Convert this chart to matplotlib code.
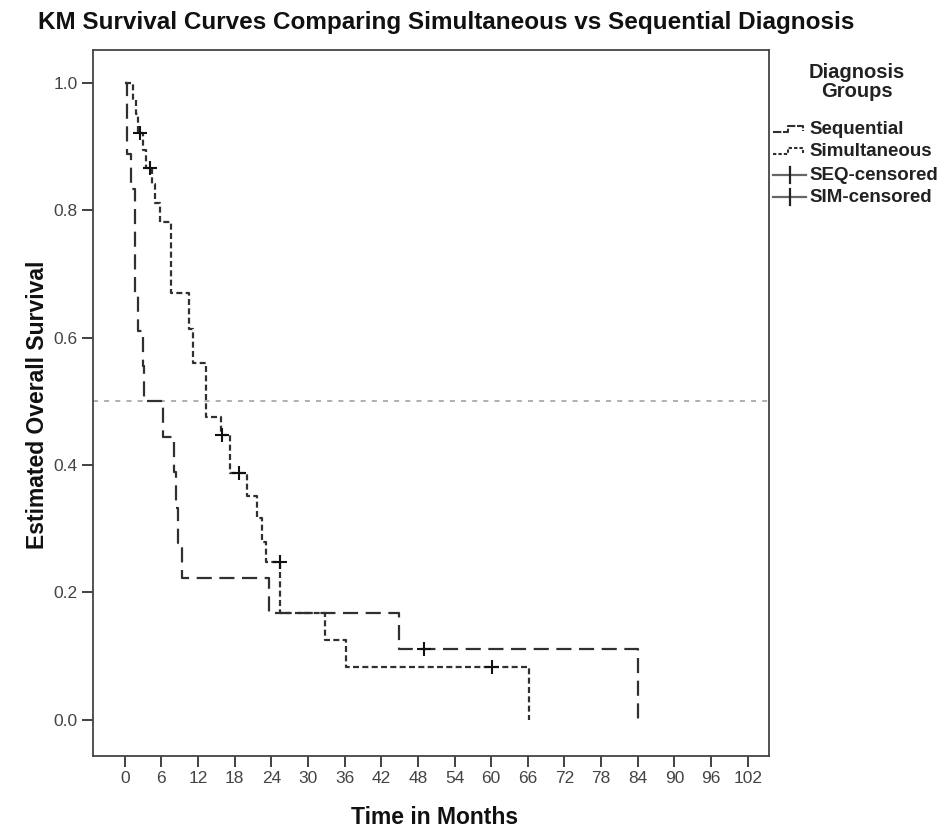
import matplotlib
matplotlib.use("Agg")
import matplotlib.pyplot as plt
from matplotlib.lines import Line2D

# ---------------- data ----------------
seq_times = [0, 0.4, 1.1, 1.6, 2.2, 3.0, 3.2, 6.2, 8.1, 8.4, 8.8, 9.3, 23.6, 44.9, 84.0]
seq_surv = [1.0, 0.889, 0.833, 0.667, 0.611, 0.556, 0.5, 0.444, 0.389, 0.333, 0.278, 0.222, 0.167, 0.111, 0.0]
seq_cens_t = [49.0]
seq_cens_s = [0.111]

sim_times = [0, 1.37, 1.9, 2.2, 3.0, 3.55, 4.4, 4.9, 5.7, 7.5, 10.5, 11.2, 13.3, 15.7,
             17.2, 20.1, 21.7, 22.4, 23.2, 25.4, 32.8, 36.3, 66.2]
sim_surv = [1.0, 0.973, 0.952, 0.921, 0.895, 0.866, 0.842, 0.811, 0.782, 0.671, 0.614, 0.56, 0.475, 0.447,
            0.387, 0.352, 0.317, 0.279, 0.247, 0.167, 0.125, 0.083, 0.0]
sim_cens_t = [2.45, 4.1, 16.0, 18.7, 25.4, 60.1]
sim_cens_s = [0.921, 0.866, 0.447, 0.387, 0.247, 0.083]

x_ticks = list(range(0, 103, 6))
y_ticks = [0.0, 0.2, 0.4, 0.6, 0.8, 1.0]
legend_labels = ["Sequential", "Simultaneous", "SEQ-censored", "SIM-censored"]
legend_title = "Diagnosis\nGroups"
title = "KM Survival Curves Comparing Simultaneous vs Sequential Diagnosis"
xlabel = "Time in Months"
ylabel = "Estimated Overall Survival"

# ---------------- style ----------------
plt.rcParams['font.family'] = ['Liberation Sans', 'DejaVu Sans']

W, H = 949, 834
fig = plt.figure(figsize=(W / 100, H / 100), dpi=100)

def fx(px):
    return px / W

def fy(py):
    return 1 - py / H

left, right, top, bottom = 93, 769, 50, 756
ax = fig.add_axes([fx(left), fy(bottom), fx(right) - fx(left), fy(top) - fy(bottom)])

curve_color = '#303030'
seq_dash = (6.8, 3.4)
sim_dash = (2.7, 1.5)
ax.axhline(0.5, color='#9a9a9a', lw=1.1, dashes=(3.3, 4.0), zorder=1)
ax.step(seq_times, seq_surv, where='post', color=curve_color, lw=1.6, dashes=seq_dash, zorder=3)
ax.step(sim_times, sim_surv, where='post', color=curve_color, lw=1.6, dashes=sim_dash, zorder=3)
ax.plot(seq_cens_t, seq_cens_s, ls='none', marker='+', ms=9.5, mew=1.5, color='#111111', zorder=4)
ax.plot(sim_cens_t, sim_cens_s, ls='none', marker='+', ms=9.5, mew=1.5, color='#111111', zorder=4)

ax.set_xlim(-5.2, 105.5)
ax.set_ylim(-0.057, 1.052)
ax.set_xticks(x_ticks)
ax.set_xticklabels([str(t) for t in x_ticks])
ax.set_yticks(y_ticks)
ax.set_yticklabels([f"{v:.1f}" for v in y_ticks])
ax.tick_params(axis='both', direction='out', length=8, width=1.3, color='#333333',
               labelsize=12.5, labelcolor='#444444', pad=3)
for sp in ax.spines.values():
    sp.set_color('#444444')
    sp.set_linewidth(1.3)

fig.text(fx(446), fy(22), title, ha='center', va='center', fontsize=17.5, fontweight='bold', color='#111111')
fig.text(fx(435), fy(818), xlabel, ha='center', va='center', fontsize=16.5, fontweight='bold', color='#111111')
fig.text(fx(38), fy(405), ylabel, ha='center', va='center', rotation=90, fontsize=16.5, fontweight='bold',
         color='#111111')

# ---------------- legend ----------------
fig.text(fx(857), fy(82), legend_title, ha='center', va='center', fontsize=14.5, fontweight='bold',
         color='#222222', linespacing=1.05)
leg_y = [130, 152, 175, 197]
glyph_dashes = [(4.0, 0.8), (1.6, 1.0)]
for i, (lab, yy) in enumerate(zip(legend_labels, leg_y)):
    if i < 2:
        xs = [773, 788, 788, 803, 803]
        ys = [yy + 2, yy + 2, yy - 4, yy - 4, yy + 1]
        fig.add_artist(Line2D([fx(v) for v in xs], [fy(v) for v in ys], color=curve_color, lw=1.5,
                              dashes=glyph_dashes[i]))
    else:
        fig.add_artist(Line2D([fx(773), fx(806)], [fy(yy), fy(yy)], color='#666666', lw=1.6))
        fig.add_artist(Line2D([fx(790), fx(790)], [fy(yy - 8), fy(yy + 8)], color='#222222', lw=1.6))
    fig.text(fx(809), fy(yy), lab, ha='left', va='center', fontsize=13.5, fontweight='bold', color='#222222')

fig.savefig("out.png", dpi=100)
